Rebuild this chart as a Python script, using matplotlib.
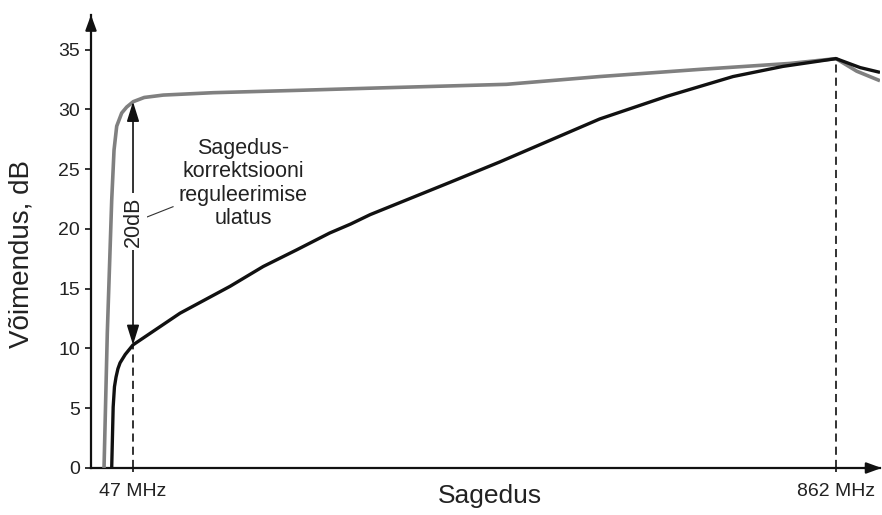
import matplotlib
matplotlib.use("Agg")
import matplotlib.pyplot as plt

plt.rcParams['font.family'] = ['Liberation Sans', 'DejaVu Sans']

# --- data (frequency in MHz, gain in dB) ---
gray_f = [13.4, 17.2, 22.3, 25.0, 28.1, 33.9, 39.7, 47.3, 60, 82, 140, 240, 333, 480, 588, 704, 809, 862, 886, 913]
gray_db = [0.0, 11.3, 22.4, 26.6, 28.6, 29.7, 30.2, 30.65, 31.0, 31.2, 31.4, 31.6, 31.8, 32.1, 32.75, 33.35, 33.85, 34.25, 33.2, 32.4]

black_f = [22.3, 24.0, 25.5, 27.3, 29.5, 32.0, 38.0, 47.0, 101.5, 159.5, 198, 237, 275, 299, 322, 414.5, 472, 530, 588, 666, 742.6, 800.5, 862, 890, 913]
black_db = [0.0, 5.1, 6.8, 7.6, 8.3, 8.8, 9.5, 10.3, 12.95, 15.2, 16.86, 18.26, 19.66, 20.4, 21.2, 23.9, 25.6, 27.4, 29.2, 31.1, 32.75, 33.6, 34.25, 33.5, 33.1]

y_ticks = [0, 5, 10, 15, 20, 25, 30, 35]
x_ticks = [47, 862]
x_tick_labels = ["47 MHz", "862 MHz"]

range_low, range_high = 10.3, 30.65
peak_db = 34.25

fig = plt.figure(figsize=(8.82, 5.15), dpi=100)
ax = fig.add_axes([91 / 882, 47 / 515, (880 - 91) / 882, (500 - 47) / 515])
ax.set_xlim(-1.7, 913)
ax.set_ylim(0, 37.9)

for s in ['top', 'right']:
    ax.spines[s].set_visible(False)
for s in ['left', 'bottom']:
    ax.spines[s].set_linewidth(1.6)
    ax.spines[s].set_color('#111111')

ax.set_yticks(y_ticks)
ax.set_xticks(x_ticks)
ax.set_xticklabels(x_tick_labels)
ax.tick_params(axis='y', direction='out', length=4, width=1.2, pad=4, labelsize=14, colors='#111111', labelcolor='#222222')
ax.tick_params(axis='x', direction='out', length=3, width=1.2, pad=8, labelsize=14, colors='#111111', labelcolor='#222222')

# axis arrowheads
ax.annotate('', xy=(0, 1.0), xytext=(0, 0.97), xycoords='axes fraction',
            arrowprops=dict(arrowstyle='-|>,head_length=0.6,head_width=0.22', color='#111111',
                            lw=1.6, shrinkA=0, shrinkB=0, mutation_scale=15), annotation_clip=False)
ax.annotate('', xy=(1.002, 0), xytext=(0.98, 0), xycoords='axes fraction',
            arrowprops=dict(arrowstyle='-|>,head_length=0.6,head_width=0.22', color='#111111',
                            lw=1.6, shrinkA=0, shrinkB=0, mutation_scale=15), annotation_clip=False)

# curves
ax.plot(gray_f, gray_db, color='#808080', lw=2.6, solid_capstyle='butt', solid_joinstyle='round', zorder=3)
ax.plot(black_f, black_db, color='#111111', lw=2.4, solid_capstyle='butt', solid_joinstyle='round', zorder=4)

# dashed markers
ax.plot([47, 47], [0, range_low], color='#222222', lw=1.3, dashes=(4.5, 2.8), zorder=2)
ax.plot([862, 862], [0, peak_db], color='#222222', lw=1.3, dashes=(4.5, 2.8), zorder=2)

# double arrow for the 20 dB range
ax.annotate('', xy=(47, range_high), xytext=(47, range_low),
            arrowprops=dict(arrowstyle='<|-|>,head_length=0.8,head_width=0.25', color='#111111',
                            lw=1.2, shrinkA=0, shrinkB=0, mutation_scale=15), zorder=5)
ax.text(47, 20.6, "20dB", rotation=90, ha='center', va='center', fontsize=15.5, color='#222222',
        bbox=dict(facecolor='white', edgecolor='none', pad=2.5), zorder=6)

# leader line and explanation text
ax.plot([63.2, 93.4], [21.0, 21.86], color='#333333', lw=0.8, zorder=5)
ax.text(174.5, 23.8, "Sagedus-\nkorrektsiooni\nreguleerimise\nulatus", ha='center', va='center',
        fontsize=15.5, color='#222222', linespacing=1.15, zorder=6)

fig.text(22 / 882, 1 - 254 / 515, "Võimendus, dB", rotation=90, ha='center', va='center',
         fontsize=20, color='#222222')
fig.text(490 / 882, 1 - 496 / 515, "Sagedus", ha='center', va='center', fontsize=19, color='#222222')

fig.savefig("out.png", dpi=100)
